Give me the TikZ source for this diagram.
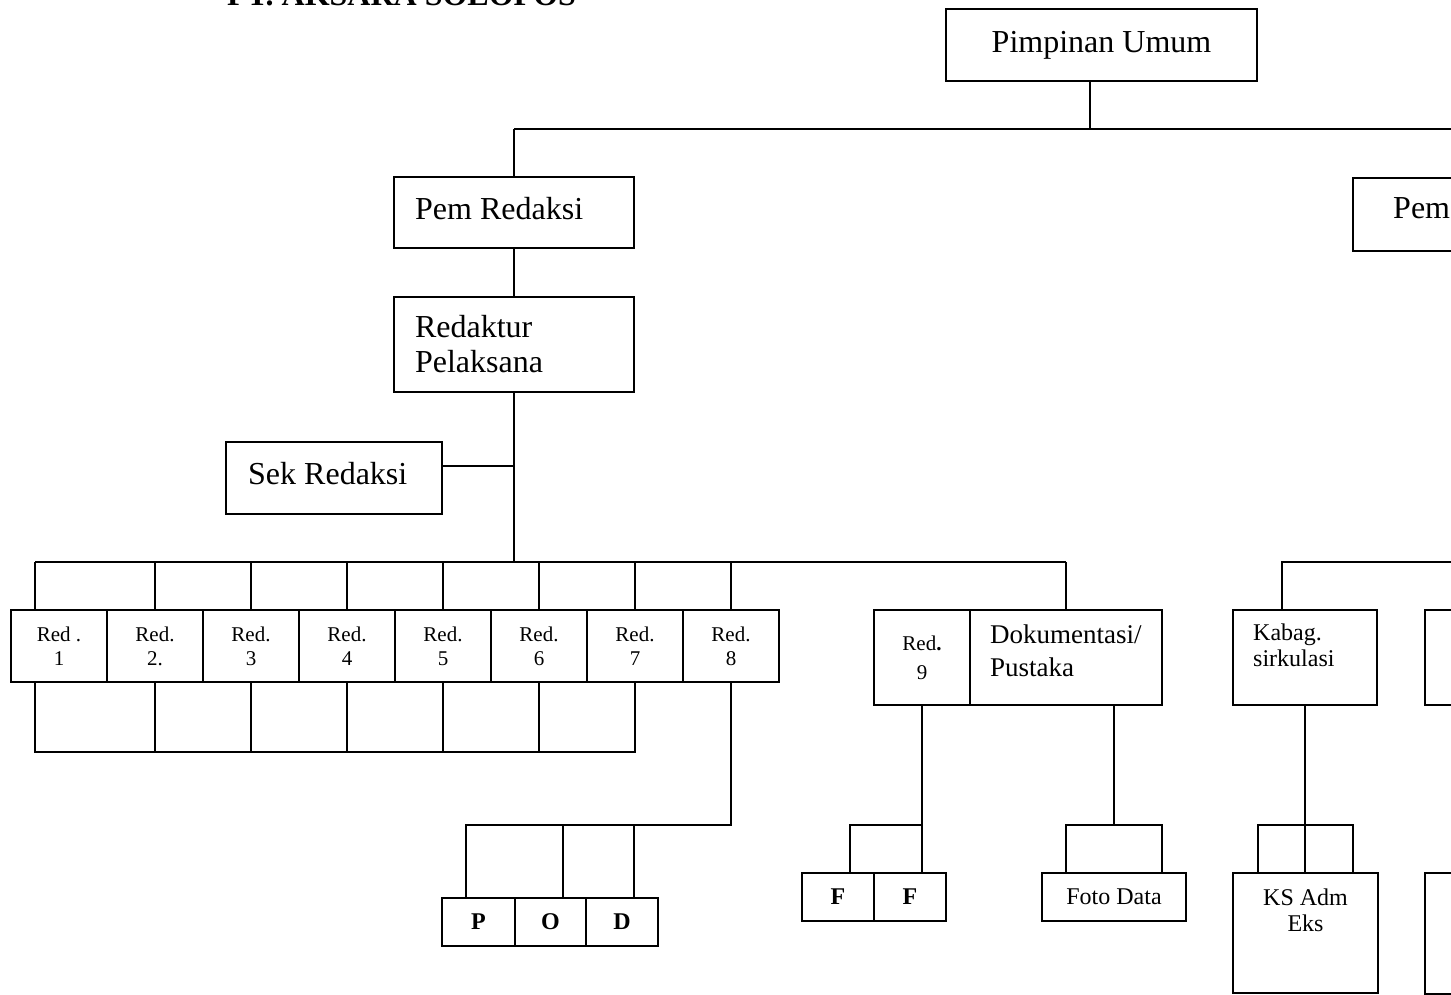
\documentclass[tikz,border=0pt]{standalone}
\usepackage{fontspec}
\setmainfont{Liberation Serif}
\begin{document}
\begin{tikzpicture}[x=1pt,y=-1pt,
  box/.style={draw, line width=1.7pt, inner sep=0pt, rectangle, anchor=center},
  conn/.style={line width=1.7pt},
  txt/.style={inner sep=0pt},
  big/.style={font=\fontsize{32}{35}\selectfont},
  mid/.style={font=\fontsize{27}{33}\selectfont},
  sml/.style={font=\fontsize{24}{26}\selectfont},
  redtxt/.style={font=\fontsize{21}{24}\selectfont, align=center},
  podtxt/.style={font=\bfseries\fontsize{24}{27}\selectfont},
  lft/.style={align=left}]
\useasboundingbox (0,0) rectangle (1451,994);
\clip (0,0) rectangle (1451,994);

% title (cut off at the top)
\node[txt, anchor=base west, font=\bfseries\fontsize{32}{35}\selectfont] (title) at (227,5) {PT. AKSARA SOLOPOS};

% upper boxes
\node[box, big, minimum width=311, minimum height=72] (pu) at (1101.5,45) {Pimpinan Umum};
\node[box, minimum width=240, minimum height=71] (pr) at (514,212.5) {};
\node[txt, big, anchor=base west] (prt) at (415,219) {Pem Redaksi};
\node[box, minimum width=240, minimum height=73] (pu2) at (1473,214.5) {};
\node[txt, big, anchor=base west] (pu2t) at (1393,218) {Pem};
\node[box, big, lft, minimum height=95, text width=198, inner xsep=21] (rp) at (514,344.5) {Redaktur\\Pelaksana};
\node[box, minimum width=216, minimum height=72] (sr) at (334,478) {};
\node[txt, big, anchor=base west] (srt) at (248,484) {Sek Redaksi};

% Red row
\node[box, redtxt, minimum width=96, minimum height=72] (r1) at (59,646) {Red .\\1};
\node[box, redtxt, minimum width=96, minimum height=72] (r2) at (155,646) {Red.\\2.};
\node[box, redtxt, minimum width=96, minimum height=72] (r3) at (251,646) {Red.\\3};
\node[box, redtxt, minimum width=96, minimum height=72] (r4) at (347,646) {Red.\\4};
\node[box, redtxt, minimum width=96, minimum height=72] (r5) at (443,646) {Red.\\5};
\node[box, redtxt, minimum width=96, minimum height=72] (r6) at (539,646) {Red.\\6};
\node[box, redtxt, minimum width=96, minimum height=72] (r7) at (635,646) {Red.\\7};
\node[box, redtxt, minimum width=96, minimum height=72] (r8) at (731,646) {Red.\\8};
\node[box, redtxt, minimum width=96, minimum height=95] (r9) at (922,657.5) {Red\textbf{.}\\[5pt]9};
\node[box, minimum width=192, minimum height=95] (dok) at (1066,657.5) {};
\node[txt, mid, lft, anchor=north west] (dokt) at (990,625) {Dokumentasi/\\Pustaka};
\node[box, minimum width=144, minimum height=95] (kab) at (1305,657.5) {};
\node[txt, sml, lft, anchor=north west] (kabt) at (1253,624) {Kabag.\\sirkulasi};
\node[box, minimum width=144, minimum height=95] (bx3) at (1497,657.5) {};

% bottom boxes
\node[box, podtxt, minimum width=73, minimum height=48] (pbox) at (478.5,922) {P};
\node[box, podtxt, minimum width=71, minimum height=48] (obox) at (550.5,922) {O};
\node[box, podtxt, minimum width=72, minimum height=48] (dbox) at (622,922) {D};
\node[box, podtxt, minimum width=72, minimum height=48] (f1) at (838,897) {F};
\node[box, podtxt, minimum width=72, minimum height=48] (f2) at (910,897) {F};
\node[box, sml, minimum width=144, minimum height=48] (fd) at (1114,897) {Foto Data};
\node[box, minimum width=145, minimum height=120] (ks) at (1305.5,933) {};
\node[txt, sml, align=center, anchor=north] (kst) at (1305.5,889) {KS Adm\\Eks};
\node[box, minimum width=145, minimum height=121] (bx4) at (1497.5,933.5) {};

% connectors: top
\coordinate (a1) at (1090,129);
\coordinate (a0) at (514,129);
\coordinate (a2) at (1470,129);
\draw[conn] (pu.south -| a1) -- (a1);
\draw[conn] (a0) -- (a2);
\draw[conn] (a0) -- (pr.north);
\draw[conn] (pr.south) -- (rp.north);
\coordinate (b0) at (514,562);
\draw[conn] (rp.south) -- (b0);
\draw[conn] ([yshift=12pt]sr.east) -- ([yshift=12pt]sr.east -| b0);

% Red row top bus
\coordinate (bl) at (35,562);
\coordinate (br) at (1066,562);
\draw[conn] (bl) -- (br);
\draw[conn] (bl) -- (bl |- r1.north);
\foreach \n in {r2,r3,r4,r5,r6,r7,r8} \draw[conn] (\n.north) -- (\n.north |- bl);
\draw[conn] (br) -- (dok.north);

% Red row bottom bus
\coordinate (cl) at (35,752);
\coordinate (cr) at (635,752);
\draw[conn] (cl |- r1.south) -- (cl) -- (cr) -- (r7.south);
\foreach \n in {r2,r3,r4,r5,r6} \draw[conn] (\n.south) -- (\n.south |- cl);

% Red 8 -> P O D
\coordinate (d0) at (731,825);
\coordinate (dl) at (466,825);
\coordinate (dm) at (563,825);
\coordinate (dr) at (634,825);
\draw[conn] (r8.south) -- (d0) -- (dl) -- (dl |- pbox.north);
\draw[conn] (dm) -- (dm |- obox.north);
\draw[conn] (dr) -- (dr |- dbox.north);

% Red 9 -> F F
\coordinate (e0) at (922,825);
\coordinate (el) at (850,825);
\draw[conn] (r9.south) -- (e0) -- (el) -- (el |- f1.north);
\draw[conn] (e0) -- (e0 |- f2.north);

% Dokumentasi -> Foto Data
\coordinate (g0) at (1114,825);
\coordinate (gl) at (1066,825);
\coordinate (gr) at (1162,825);
\draw[conn] (dok.south -| g0) -- (g0);
\draw[conn] (gl |- fd.north) -- (gl) -- (gr) -- (gr |- fd.north);

% Kabag sirkulasi
\coordinate (k0) at (1282,562);
\coordinate (k1) at (1470,562);
\draw[conn] (k0 |- kab.north) -- (k0) -- (k1);
\draw[conn] (kab.south) -- (kab.south |- ks.north);
\coordinate (kl) at (1258,825);
\coordinate (kr) at (1353,825);
\draw[conn] (kl |- ks.north) -- (kl) -- (kr) -- (kr |- ks.north);
\end{tikzpicture}
\end{document}
